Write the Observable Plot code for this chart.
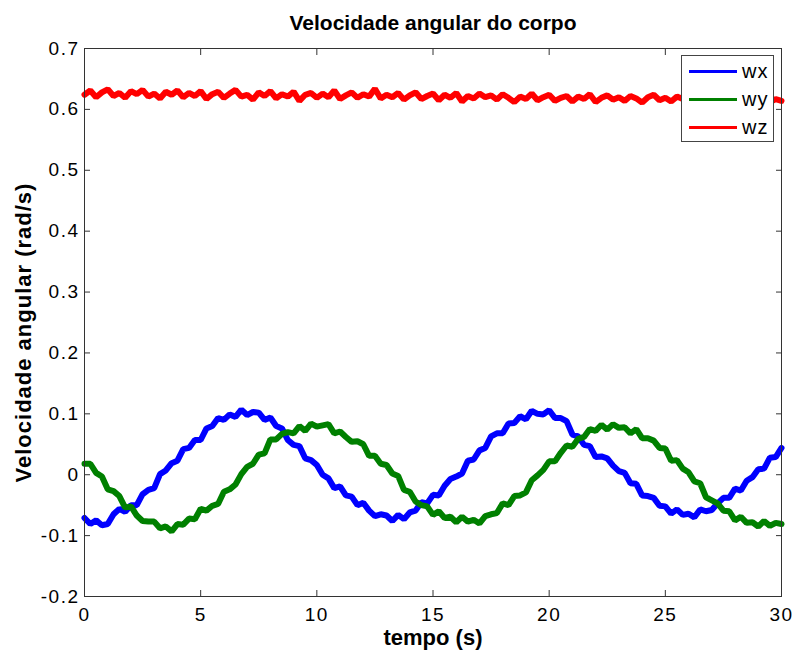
<!DOCTYPE html>
<html>
<head>
<meta charset="utf-8">
<script src="https://cdn.jsdelivr.net/npm/d3@7"></script>
<script src="https://cdn.jsdelivr.net/npm/@observablehq/plot@0.6"></script>
<style>
  body { margin: 0; background: #fff; }
  #wrap { position: relative; width: 796px; height: 652px; }
  #wrap svg { display: block; }
  [aria-label="y-axis tick label"] text, [aria-label="x-axis tick label"] text { letter-spacing: 1.5px; }
  .legend { position: absolute; left: 681px; top: 55px; width: 91px; height: 85px; border: 1px solid #444; background: #fff;
            font-family: "Liberation Sans", Arial, Helvetica, sans-serif; font-size: 20px; color: #000; }
  .legend .row { position: absolute; left: 0; width: 91px; height: 24px; }
  .legend .sw { position: absolute; left: 7px; width: 48px; height: 3px; top: 11px; }
  .legend .lb { position: absolute; left: 60px; top: 0; line-height: 24px; letter-spacing: 1px; }
</style>
</head>
<body>
<div id="wrap"></div>
<script>
// time axis (s)
const t = d3.range(0, 30.0001, 0.25);

// series values (rad/s), one per 0.25 s
const wx = [
-0.071,-0.081,-0.075,-0.083,-0.081,-0.065,-0.056,-0.061,-0.050,-0.050,
-0.032,-0.025,-0.022,0.001,0.007,0.019,0.023,0.042,0.044,0.057,
0.057,0.076,0.080,0.093,0.090,0.099,0.095,0.107,0.098,0.103,
0.102,0.090,0.094,0.080,0.076,0.057,0.049,0.047,0.027,0.024,
0.016,0.000,-0.006,-0.022,-0.019,-0.034,-0.036,-0.050,-0.046,-0.059,
-0.068,-0.065,-0.067,-0.076,-0.066,-0.073,-0.062,-0.059,-0.045,-0.047,
-0.033,-0.034,-0.018,-0.007,-0.003,0.002,0.023,0.025,0.040,0.044,
0.063,0.068,0.068,0.084,0.085,0.096,0.091,0.105,0.100,0.099,
0.106,0.093,0.093,0.088,0.066,0.063,0.049,0.047,0.029,0.030,
0.027,0.015,0.006,0.003,-0.014,-0.015,-0.034,-0.035,-0.038,-0.051,
-0.052,-0.064,-0.057,-0.066,-0.064,-0.070,-0.057,-0.060,-0.058,-0.047,
-0.038,-0.038,-0.023,-0.026,-0.010,-0.004,0.009,0.010,0.028,0.029,
0.044
];
const wy = [
0.018,0.018,0.003,-0.003,-0.024,-0.027,-0.035,-0.054,-0.052,-0.067,
-0.076,-0.077,-0.077,-0.088,-0.085,-0.093,-0.081,-0.082,-0.072,-0.073,
-0.056,-0.059,-0.051,-0.048,-0.028,-0.024,-0.016,0.001,0.013,0.018,
0.033,0.035,0.058,0.058,0.067,0.070,0.068,0.080,0.072,0.084,
0.079,0.081,0.083,0.068,0.071,0.062,0.054,0.055,0.050,0.031,
0.031,0.018,0.016,0.002,-0.002,-0.025,-0.028,-0.044,-0.050,-0.052,
-0.066,-0.060,-0.071,-0.069,-0.078,-0.069,-0.077,-0.074,-0.080,-0.068,
-0.065,-0.063,-0.047,-0.050,-0.035,-0.034,-0.029,-0.009,-0.001,0.008,
0.022,0.022,0.036,0.048,0.046,0.059,0.062,0.075,0.072,0.082,
0.074,0.083,0.077,0.078,0.068,0.075,0.060,0.060,0.056,0.044,
0.043,0.023,0.024,0.010,0.004,-0.011,-0.014,-0.037,-0.042,-0.047,
-0.059,-0.060,-0.075,-0.069,-0.079,-0.078,-0.085,-0.076,-0.084,-0.079,
-0.081
];
const wz = [
0.624,0.631,0.620,0.628,0.633,0.622,0.627,0.619,0.630,0.625,
0.632,0.621,0.626,0.618,0.629,0.624,0.631,0.620,0.627,0.622,
0.630,0.617,0.625,0.629,0.619,0.626,0.632,0.621,0.624,0.616,
0.628,0.622,0.630,0.618,0.625,0.621,0.629,0.614,0.624,0.627,
0.619,0.626,0.620,0.631,0.617,0.623,0.628,0.619,0.625,0.621,
0.634,0.618,0.624,0.620,0.627,0.616,0.623,0.628,0.617,0.622,
0.626,0.615,0.624,0.619,0.627,0.613,0.622,0.618,0.626,0.620,
0.623,0.616,0.625,0.619,0.612,0.621,0.617,0.626,0.615,0.620,
0.624,0.614,0.619,0.622,0.613,0.621,0.617,0.625,0.612,0.619,
0.623,0.616,0.620,0.614,0.622,0.618,0.611,0.620,0.624,0.615,
0.619,0.613,0.621,0.617,0.623,0.612,0.618,0.615,0.621,0.610,
0.617,0.620,0.613,0.618,0.622,0.611,0.616,0.619,0.612,0.617,
0.614
];

const seriesNames = ["wx", "wy", "wz"];
const seriesColors = ["#0000ff", "#008000", "#ff0000"];
const xTicks = [0, 5, 10, 15, 20, 25, 30];
const yTicks = [-0.2, -0.1, 0, 0.1, 0.2, 0.3, 0.4, 0.5, 0.6, 0.7];
const yTickLabels = ["-0.2", "-0.1", "0", "0.1", "0.2", "0.3", "0.4", "0.5", "0.6", "0.7"];
const titleText = "Velocidade angular do corpo";
const xLabel = "tempo (s)";
const yLabel = "Velocidade angular (rad/s)";

const seriesValues = [wx, wy, wz];
const data = seriesNames.flatMap((s, i) => t.map((tt, j) => ({t: tt, v: seriesValues[i][j], s})));

const font = '"Liberation Sans", Arial, Helvetica, sans-serif';
const chart = Plot.plot({
  width: 796,
  height: 652,
  marginLeft: 84,
  marginRight: 15,
  marginTop: 48,
  marginBottom: 56,
  style: {fontFamily: font, fontSize: "19px", color: "#000", background: "#fff", overflow: "visible"},
  x: {domain: [0, 30]},
  y: {domain: [-0.2, 0.7]},
  color: {domain: seriesNames, range: seriesColors},
  marks: [
    Plot.line(data, {x: "t", y: "v", z: "s", stroke: "s", strokeWidth: 6, strokeLinejoin: "miter"}),
    Plot.frame({stroke: "#333"}),
    Plot.axisX({anchor: "bottom", ticks: xTicks, tickSize: -6, tickPadding: 17, stroke: "#333", label: null, tickFormat: d => String(d)}),
    Plot.axisX({anchor: "top", ticks: xTicks, tickSize: -6, stroke: "#333", label: null, tickFormat: () => ""}),
    Plot.axisY({anchor: "left", ticks: yTicks, tickSize: -6, tickPadding: 11, stroke: "#333", label: null,
                tickFormat: d => yTickLabels[yTicks.findIndex(v => Math.abs(v - d) < 1e-9)]}),
    Plot.axisY({anchor: "right", ticks: yTicks, tickSize: -6, stroke: "#333", label: null, tickFormat: () => ""}),
    Plot.text([titleText], {frameAnchor: "top", lineAnchor: "middle", dy: -25, fontWeight: "bold", fontSize: 21}),
    Plot.text([xLabel], {frameAnchor: "bottom", lineAnchor: "middle", dy: 41, fontWeight: "bold", fontSize: 22}),
    Plot.text([yLabel], {frameAnchor: "left", textAnchor: "middle", lineAnchor: "middle", dx: -61, dy: 10, rotate: -90,
                         fontWeight: "bold", fontSize: 22})
  ]
});
const wrap = document.getElementById("wrap");
wrap.appendChild(chart);
// slight widening of the rotated y label, as in the reference
chart.querySelectorAll('text').forEach(el => { if (el.textContent === yLabel) el.style.letterSpacing = "1px"; });

// legend
const legend = document.createElement("div");
legend.className = "legend";
seriesNames.forEach((name, i) => {
  const row = document.createElement("div");
  row.className = "row";
  row.style.top = (3 + i * 28) + "px";
  const sw = document.createElement("div");
  sw.className = "sw";
  sw.style.background = seriesColors[i];
  const lb = document.createElement("div");
  lb.className = "lb";
  lb.textContent = name;
  row.appendChild(sw);
  row.appendChild(lb);
  legend.appendChild(row);
});
wrap.appendChild(legend);
</script>
</body>
</html>
